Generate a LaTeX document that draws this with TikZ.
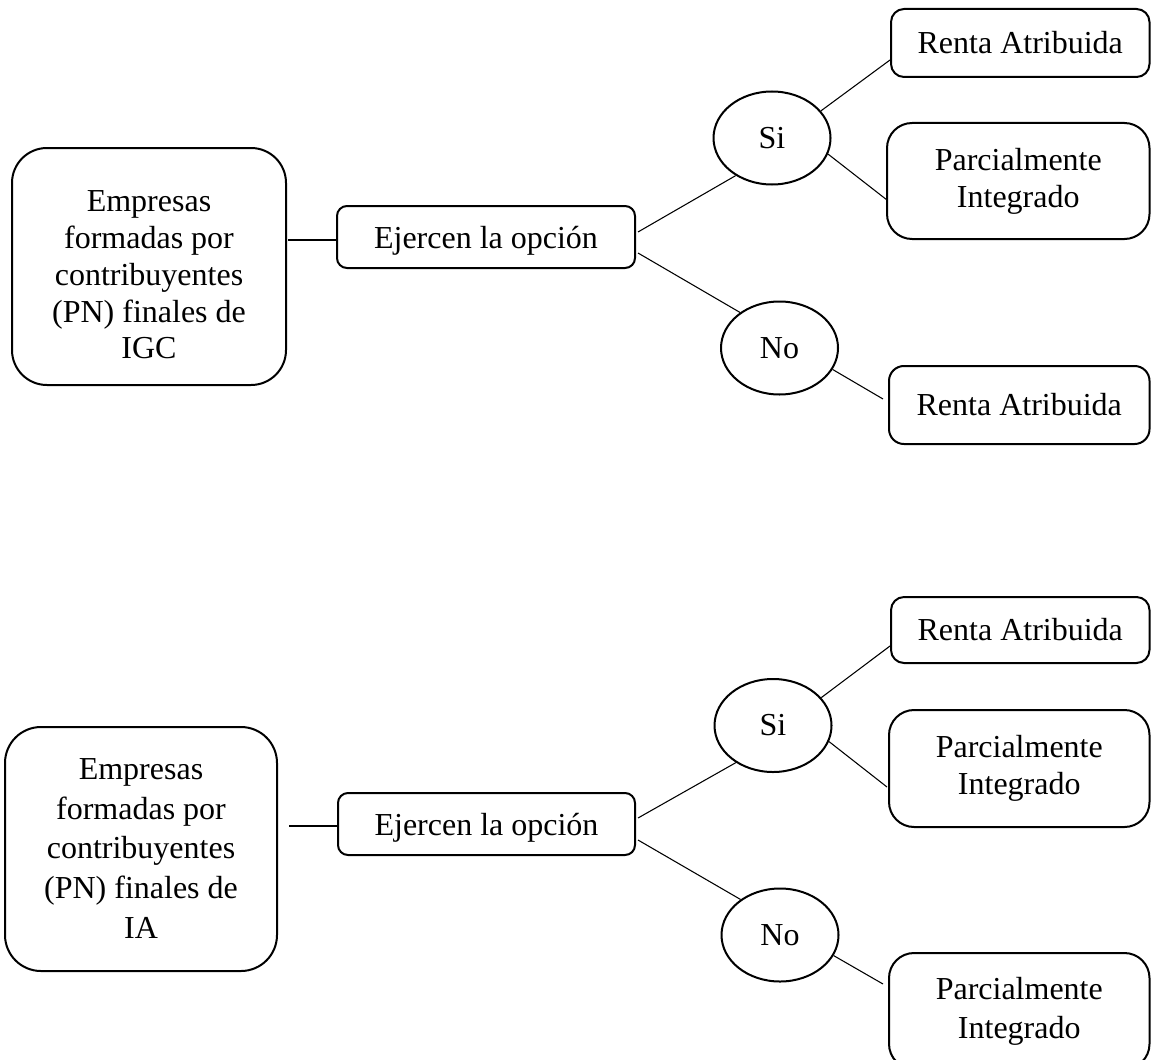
\documentclass[tikz,border=0pt]{standalone}
\usepackage{fontspec}
\setmainfont{Liberation Serif}
\usetikzlibrary{shapes.geometric,calc}

\tikzset{
  base/.style={draw, line width=0.75pt, inner sep=0pt, align=center,
               font=\fontsize{12}{13.9}\selectfont},
  bigbox/.style={base, rounded corners=13.1pt},
  bigtext/.style={inner sep=0pt, align=center},
  optbox/.style={base, rounded corners=3.75pt, minimum width=111.75pt,
                 minimum height=23.25pt, text depth=0pt},
  answer/.style={base, ellipse, minimum width=43.875pt, minimum height=34.875pt},
  rentabox/.style={base, rounded corners=4.9pt, minimum width=96.94pt},
  parcbox/.style={base, rounded corners=9.4pt, minimum width=97.69pt},
  conn/.style={line width=0.4pt}
}

\begin{document}
\begin{tikzpicture}[x=0.375pt, y=-0.375pt]
\path[use as bounding box] (0,0) rectangle (1151,1059);
\clip (0,0) rectangle (1151,1059);

% ---------- upper tree ----------
\node[bigbox, minimum width=102.75pt, minimum height=88.875pt] (A1) at (149,266.5) {};
\node[bigtext, font=\fontsize{12}{13.76}\selectfont] (A1t) at (149,275)
  {Empresas\\formadas por\\contribuyentes\\(PN) finales de\\IGC};
\node[optbox] (B1) at (486,237) {Ejercen la opción};
\node[answer] (S1) at (772,138) {Si};
\node[answer] (N1) at (779.5,348) {No};
\node[rentabox, minimum height=25.5pt] (R1) at (1020.25,43) {Renta Atribuida};
\node[parcbox, minimum width=98.44pt, minimum height=43.5pt] (P1) at (1018.25,181)
  {Parcialmente\\Integrado};
\node[rentabox, rounded corners=5.6pt, minimum width=97.69pt, minimum height=29.25pt]
  (R2) at (1019.25,405) {Renta Atribuida};

\draw[conn] ($(A1.east |- B1.west)+(1,3)$) -- ($(B1.west)+(0,3)$);
\draw[conn] ($(B1.east)+(2,-5)$) -- (S1.226);
\draw[conn] ($(B1.east)+(2,16)$) -- (N1.138);
\draw[conn] (S1.29) -- ($(R1.west)+(0,17)$);
\draw[conn] (S1.-16) -- ($(P1.west)+(1,19)$);
\draw[conn] (N1.-22) -- ($(R2.west)+(-5,-6)$);

% ---------- lower tree ----------
\node[bigbox, rounded corners=13.5pt, minimum width=102pt, minimum height=91.5pt] (A2) at (141,849) {};
\node[bigtext, font=\fontsize{12}{14.85}\selectfont] (A2t) at (141,848.5)
  {Empresas\\formadas por\\contribuyentes\\(PN) finales de\\IA};
\node[optbox, minimum width=111.375pt] (B2) at (486.5,824) {Ejercen la opción};
\node[answer] (S2) at (773,725.5) {Si};
\node[answer] (N2) at (780,935) {No};
\node[rentabox, minimum height=24.75pt] (R3) at (1020.25,630) {Renta Atribuida};
\node[parcbox, minimum height=43.875pt] (P2) at (1019.25,768.5) {Parcialmente\\Integrado};
\node[parcbox, minimum height=43.5pt, font=\fontsize{12}{14.6}\selectfont] (P3) at (1019.25,1011)
  {Parcialmente\\Integrado};

\draw[conn] ($(A2.east |- B2.west)+(11,2)$) -- ($(B2.west)+(0,2)$);
\draw[conn] ($(B2.east)+(2,-6)$) -- (S2.225);
\draw[conn] ($(B2.east)+(2,16)$) -- (N2.138);
\draw[conn] (S2.30) -- ($(R3.west)+(0,16)$);
\draw[conn] (S2.-16) -- ($(P2.west)+(-1,18.5)$);
\draw[conn] (N2.-21) -- ($(P3.north west)+(-5,32)$);
\end{tikzpicture}
\end{document}
